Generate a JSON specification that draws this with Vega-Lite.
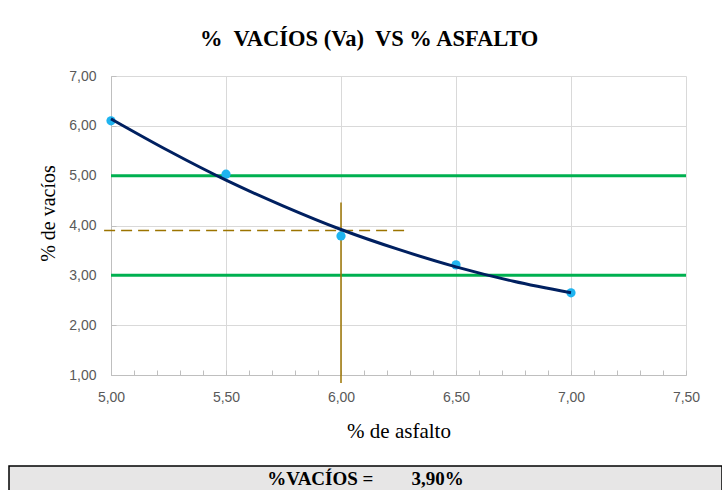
{
  "$schema": "https://vega.github.io/schema/vega-lite/v6.json",
  "background": "white",
  "padding": {"left": 8, "top": 27, "right": 0, "bottom": 0},
  "config": {
    "view": {"stroke": null},
    "font": "Liberation Sans"
  },
  "datasets": {
    "puntos": [
      {"asfalto": 5.0, "vacios": 6.10},
      {"asfalto": 5.5, "vacios": 5.03},
      {"asfalto": 6.0, "vacios": 3.79},
      {"asfalto": 6.5, "vacios": 3.21},
      {"asfalto": 7.0, "vacios": 2.65}
    ],
    "curva": [
      {"asfalto": 5.00, "vacios": 6.14},
      {"asfalto": 5.25, "vacios": 5.50},
      {"asfalto": 5.50, "vacios": 4.91},
      {"asfalto": 5.75, "vacios": 4.39},
      {"asfalto": 6.00, "vacios": 3.92},
      {"asfalto": 6.25, "vacios": 3.52},
      {"asfalto": 6.50, "vacios": 3.17},
      {"asfalto": 6.75, "vacios": 2.88},
      {"asfalto": 7.00, "vacios": 2.65}
    ],
    "limites": [
      {"limite": 5},
      {"limite": 3}
    ],
    "horizontal": [
      {"x1": 4.97, "x2": 6.30, "vacios": 3.90}
    ],
    "vertical": [
      {"asfalto": 6.0, "y1": 0.84, "y2": 4.46}
    ],
    "resultado": [
      {"texto": "%VACÍOS =\u00a0\u00a0\u00a0\u00a0\u00a0\u00a0\u00a0\u00a03,90%"}
    ]
  },
  "concat": [
    {
      "hconcat": [
        {
          "width": 29,
          "height": 10,
          "data": {"values": [{"v": 0}]},
          "mark": {"type": "point", "opacity": 0},
          "encoding": {}
        },
        {
          "width": 575,
          "height": 299,
          "title": {
            "text": "%\u00a0 VACÍOS (Va)\u00a0 VS % ASFALTO",
            "font": "Liberation Serif",
            "fontSize": 22.5,
            "fontWeight": "bold",
            "color": "#000000",
            "anchor": "middle",
            "frame": "bounds",
            "offset": 19
          },
          "encoding": {
            "x": {
              "type": "quantitative",
              "scale": {"domain": [5, 7.5], "nice": false, "zero": false},
              "axis": {
                "title": "% de asfalto",
                "titleFont": "Liberation Serif",
                "titleFontSize": 21,
                "titleFontWeight": "normal",
                "titleColor": "#000000",
                "titlePadding": 16,
                "values": [5, 5.1, 5.2, 5.3, 5.4, 5.5, 5.6, 5.7, 5.8, 5.9, 6, 6.1, 6.2, 6.3, 6.4, 6.5, 6.6, 6.7, 6.8, 6.9, 7, 7.1, 7.2, 7.3, 7.4, 7.5],
                "labelExpr": "abs(datum.value*2 - round(datum.value*2)) < 0.001 ? replace(format(datum.value, '.2f'), '.', ',') : ''",
                "labelFont": "Liberation Sans",
                "labelFontSize": 14,
                "labelColor": "#595959",
                "labelPadding": 20,
                "labelOverlap": false,
                "labelFlush": false,
                "tickSize": -5,
                "tickColor": "#bfbfbf",
                "domainColor": "#bfbfbf",
                "domainWidth": 1,
                "gridColor": "#d9d9d9",
                "gridOpacity": {"condition": {"test": "abs(datum.value*2 - round(datum.value*2)) < 0.001", "value": 1}, "value": 0}
              }
            },
            "y": {
              "type": "quantitative",
              "scale": {"domain": [1, 7], "nice": false, "zero": false},
              "axis": {
                "title": "% de vacíos",
                "titleFont": "Liberation Serif",
                "titleFontSize": 20,
                "titleFontWeight": "normal",
                "titleColor": "#000000",
                "titlePadding": 10,
                "titleY": 137,
                "values": [1, 2, 3, 4, 5, 6, 7],
                "labelExpr": "replace(format(datum.value, '.2f'), '.', ',')",
                "labelFont": "Liberation Sans",
                "labelFontSize": 14,
                "labelColor": "#595959",
                "labelPadding": 20,
                "labelOverlap": false,
                "tickSize": -5,
                "tickColor": "#bfbfbf",
                "domainColor": "#bfbfbf",
                "gridColor": "#d9d9d9"
              }
            }
          },
          "layer": [
            {
              "data": {"name": "limites"},
              "mark": {"type": "rule", "color": "#00b050", "strokeWidth": 3},
              "encoding": {"y": {"field": "limite", "type": "quantitative"}}
            },
            {
              "data": {"name": "horizontal"},
              "mark": {"type": "rule", "color": "#9c7400", "strokeWidth": 1.5, "strokeDash": [11, 6]},
              "encoding": {
                "x": {"field": "x1", "type": "quantitative"},
                "x2": {"field": "x2"},
                "y": {"field": "vacios", "type": "quantitative"}
              }
            },
            {
              "data": {"name": "vertical"},
              "mark": {"type": "rule", "color": "#9c7400", "strokeWidth": 1.5},
              "encoding": {
                "x": {"field": "asfalto", "type": "quantitative"},
                "y": {"field": "y1", "type": "quantitative"},
                "y2": {"field": "y2"}
              }
            },
            {
              "data": {"name": "puntos"},
              "mark": {"type": "circle", "color": "#1fb4f0", "size": 85, "opacity": 1},
              "encoding": {
                "x": {"field": "asfalto", "type": "quantitative"},
                "y": {"field": "vacios", "type": "quantitative"}
              }
            },
            {
              "data": {"name": "curva"},
              "mark": {"type": "line", "color": "#002060", "strokeWidth": 3, "interpolate": "monotone"},
              "encoding": {
                "x": {"field": "asfalto", "type": "quantitative"},
                "y": {"field": "vacios", "type": "quantitative"}
              }
            }
          ]
        }
      ],
      "spacing": 0
    },
    {
      "width": 713,
      "height": 26,
      "view": {"fill": "#e7e6e6", "stroke": "#000000", "strokeWidth": 1.5},
      "data": {"name": "resultado"},
      "mark": {"type": "text", "font": "Liberation Serif", "fontWeight": "bold", "fontSize": 19, "color": "#000000"},
      "encoding": {"text": {"field": "texto", "type": "nominal"}}
    }
  ],
  "columns": 1,
  "align": "none",
  "spacing": 24
}
